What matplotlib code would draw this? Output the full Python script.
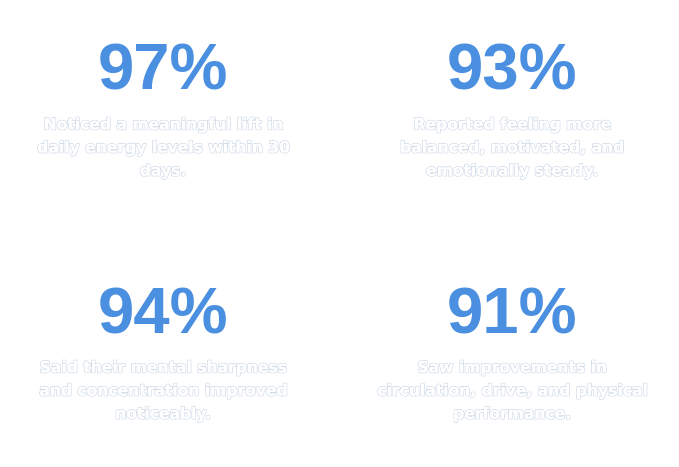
import matplotlib
matplotlib.use("Agg")
import matplotlib.pyplot as plt
import matplotlib.patheffects as pe

values = ["97%", "93%", "94%", "91%"]
descriptions = [
    "Noticed a meaningful lift in\ndaily energy levels within 30\ndays.",
    "Reported feeling more\nbalanced, motivated, and\nemotionally steady.",
    "Said their mental sharpness\nand concentration improved\nnoticeably.",
    "Saw improvements in\ncirculation, drive, and physical\nperformance.",
]

W, H = 679, 467
fig = plt.figure(figsize=(W / 100, H / 100), dpi=100)
fig.patch.set_facecolor("white")

centers_x = [163, 512, 163, 512]
num_base = [90, 90, 333, 333]
desc_y = [148, 148, 391, 391]

for v, d, cx, by, dy in zip(values, descriptions, centers_x, num_base, desc_y):
    fig.text(cx / W, 1 - by / H, v, ha="center", va="baseline",
             fontsize=47, fontweight="bold", family="Liberation Sans",
             color="#4a8fe0")
    fig.text(cx / W, 1 - dy / H, d, ha="center", va="center",
             fontsize=11.2, fontweight="bold", family="DejaVu Sans",
             color="white", linespacing=1.68,
             path_effects=[pe.withStroke(linewidth=1.2, foreground="#d3dde9"),
                           pe.Normal()])

fig.savefig("out.png", dpi=100, facecolor="white")
